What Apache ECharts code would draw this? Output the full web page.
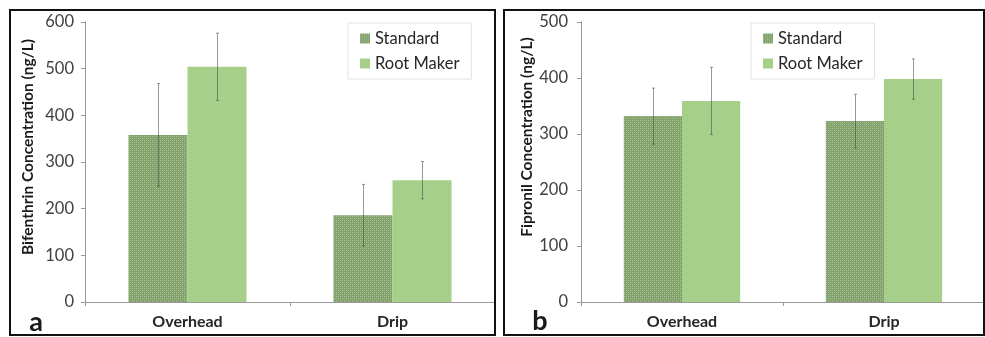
<!DOCTYPE html>
<html>
<head>
<meta charset="utf-8">
<script src="https://cdn.jsdelivr.net/npm/echarts@6/dist/echarts.min.js"></script>
<style>
  html, body { margin: 0; padding: 0; background: #fff; }
  #chart { width: 985px; height: 337px; }
</style>
</head>
<body>
<div id="chart"></div>
<script>
// Irrigation methods on the category axis
const categories = ['Overhead', 'Drip'];
const seriesNames = ['Standard', 'Root Maker'];

// Panel a: bifenthrin (ng/L), mean and standard error
const bifStandard = [358, 186];
const bifStandardErr = [110, 66];
const bifRootMaker = [504, 261];
const bifRootMakerErr = [72, 40];
const bifTicks = [0, 100, 200, 300, 400, 500, 600];

// Panel b: fipronil (ng/L), mean and standard error
const fipStandard = [332, 323];
const fipStandardErr = [50, 48];
const fipRootMaker = [359, 398];
const fipRootMakerErr = [60, 36];
const fipTicks = [0, 100, 200, 300, 400, 500];

const FONT = 'Lato, "Liberation Sans", sans-serif';
const GAP = 0.424; // fraction of the band left empty between categories

// Fine cross-hatch fill used for the Standard bars
function hatchPattern() {
  const c = document.createElement('canvas');
  c.width = 4; c.height = 4;
  const ctx = c.getContext('2d');
  ctx.fillStyle = '#83a26d';
  ctx.fillRect(0, 0, 4, 4);
  ctx.fillStyle = '#acc997';
  ctx.fillRect(0, 0, 1, 1);
  ctx.fillRect(2, 2, 1, 1);
  ctx.fillStyle = '#97b481';
  ctx.fillRect(2, 0, 1, 1);
  ctx.fillRect(0, 2, 1, 1);
  return { image: c, repeat: 'repeat' };
}
const hatch = hatchPattern();
const rootColor = '#a6cf8a';

function errorData(means, errs) {
  return means.map((m, i) => [i, m - errs[i], m + errs[i]]);
}

// Whiskers drawn on top of each bar; side = -1 for Standard, +1 for Root Maker
function errorSeries(name, gridIdx, means, errs, side) {
  return {
    type: 'custom',
    name: name + ' error',
    xAxisIndex: gridIdx,
    yAxisIndex: gridIdx,
    z: 5,
    silent: true,
    data: errorData(means, errs),
    renderItem: function (params, api) {
      const band = api.size([1, 0])[0];
      const barW = band * (1 - GAP) / 2;
      const lo = api.coord([api.value(0), api.value(1)]);
      const hi = api.coord([api.value(0), api.value(2)]);
      const x = Math.round(lo[0] + side * barW / 2) + 0.5;
      const style = { stroke: 'rgba(70,70,70,0.55)', lineWidth: 1 };
      return {
        type: 'group',
        children: [
          { type: 'line', shape: { x1: x, y1: lo[1], x2: x, y2: hi[1] }, style: style },
          { type: 'line', shape: { x1: x - 1.5, y1: lo[1], x2: x + 1.5, y2: lo[1] }, style: style },
          { type: 'line', shape: { x1: x - 1.5, y1: hi[1], x2: x + 1.5, y2: hi[1] }, style: style }
        ]
      };
    }
  };
}

function barSeries(name, gridIdx, values, color) {
  return {
    type: 'bar',
    name: name,
    xAxisIndex: gridIdx,
    yAxisIndex: gridIdx,
    data: values,
    barGap: '0%',
    barCategoryGap: (GAP * 100) + '%',
    itemStyle: { color: color },
    emphasis: { disabled: true }
  };
}

function xAxis(gridIdx) {
  return {
    type: 'category',
    gridIndex: gridIdx,
    data: categories,
    axisLine: { lineStyle: { color: '#9a9a9a', width: 1 } },
    axisTick: { show: true, length: 4, lineStyle: { color: '#9a9a9a' } },
    axisLabel: { color: '#262626', fontFamily: FONT, fontWeight: 'bold', fontSize: 16, margin: 12 }
  };
}

function yAxis(gridIdx, ticks, margin) {
  return {
    type: 'value',
    gridIndex: gridIdx,
    min: ticks[0],
    max: ticks[ticks.length - 1],
    interval: ticks[1] - ticks[0],
    splitLine: { show: false },
    axisLine: { show: true, lineStyle: { color: '#9a9a9a', width: 1 } },
    axisTick: { show: true, length: 4, lineStyle: { color: '#9a9a9a' } },
    axisLabel: { color: '#404040', fontFamily: FONT, fontSize: 16.5, margin: margin }
  };
}

function legend(left) {
  return {
    left: left,
    top: 23,
    orient: 'vertical',
    data: seriesNames,
    width: 120,
    padding: [7, 12, 7, 12],
    itemGap: 8,
    itemWidth: 10,
    itemHeight: 10,
    icon: 'rect',
    borderColor: '#e2e2e2',
    borderWidth: 1,
    backgroundColor: '#fff',
    selectedMode: false,
    textStyle: { fontFamily: FONT, fontSize: 16.5, color: '#262626', padding: [0, 6, 0, 0] }
  };
}

function panelText(text, x, y, size, rotate) {
  return {
    type: 'text',
    x: x, y: y,
    rotation: rotate ? Math.PI / 2 : 0,
    style: {
      text: text,
      font: 'bold ' + size + 'px ' + FONT,
      fill: '#1a1a1a',
      textAlign: 'center',
      textVerticalAlign: 'middle'
    },
    z: 10
  };
}

const chart = echarts.init(document.getElementById('chart'), null, { renderer: 'canvas' });

chart.setOption({
  animation: false,
  backgroundColor: '#fff',
  grid: [
    { left: 85, top: 22, width: 410, height: 280 },
    { left: 581, top: 22, width: 412, height: 280 }
  ],
  xAxis: [xAxis(0), xAxis(1)],
  yAxis: [yAxis(0, bifTicks, 11), yAxis(1, fipTicks, 13)],
  legend: [legend(348), legend(751)],
  series: [
    barSeries('Standard', 0, bifStandard, hatch),
    barSeries('Root Maker', 0, bifRootMaker, rootColor),
    errorSeries('Standard', 0, bifStandard, bifStandardErr, -1),
    errorSeries('Root Maker', 0, bifRootMaker, bifRootMakerErr, 1),
    barSeries('Standard', 1, fipStandard, hatch),
    barSeries('Root Maker', 1, fipRootMaker, rootColor),
    errorSeries('Standard', 1, fipStandard, fipStandardErr, -1),
    errorSeries('Root Maker', 1, fipRootMaker, fipRootMakerErr, 1)
  ],
  graphic: [
    // panel frames
    { type: 'rect', shape: { x: 10, y: 10, width: 485, height: 325 },
      style: { fill: 'none', stroke: '#111', lineWidth: 2 }, z: 20 },
    { type: 'rect', shape: { x: 504, y: 10, width: 480, height: 325 },
      style: { fill: 'none', stroke: '#111', lineWidth: 2 }, z: 20 },
    panelText('Bifenthrin Concentration (ng/L)', 28, 147, 15.5, true),
    panelText('Fipronil Concentration (ng/L)', 527, 137, 15.5, true),
    panelText('a', 36, 322, 27, false),
    panelText('b', 540, 321, 27, false)
  ]
});
</script>
</body>
</html>
